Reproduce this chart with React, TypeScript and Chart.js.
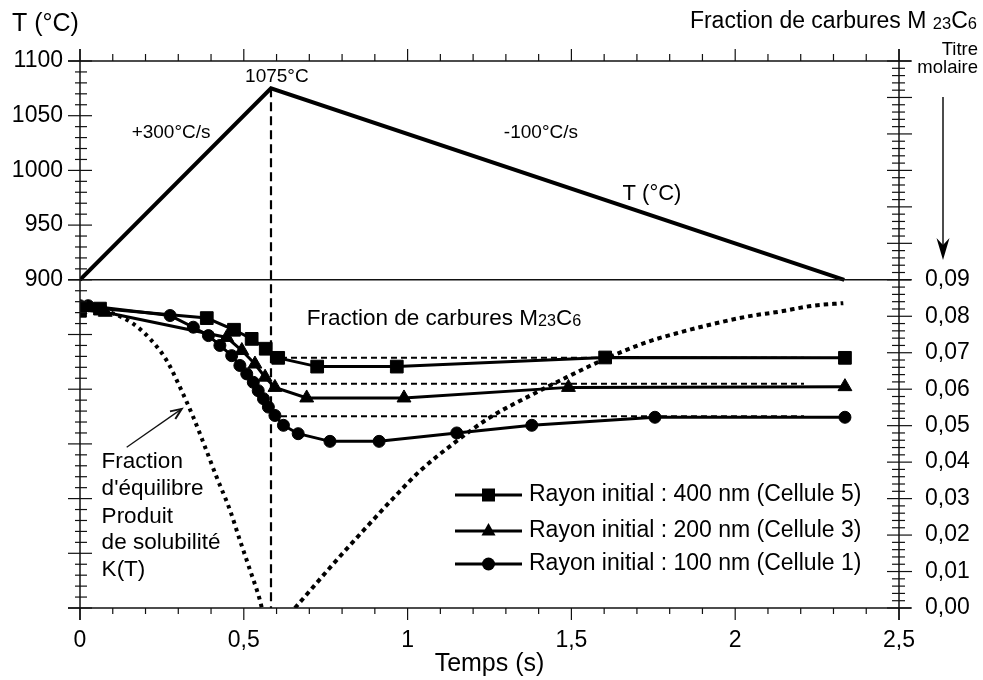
import React, { useEffect, useRef } from 'react';
import { Chart, registerables } from 'chart.js';

Chart.register(...registerables);

const FONT = '"Liberation Sans", Arial, sans-serif';

// Thermal cycle (left axis, °C)
const tempTimes = [0, 0.583, 2.333];
const tempValues = [900, 1075, 900];
const peakTime = 0.583;
const peakTemp = 1075;

// Rayon initial 400 nm (Cellule 5) – squares
const squareTimes = [0, 0.061, 0.387, 0.47, 0.524, 0.567, 0.605, 0.724, 0.967, 1.603, 2.335];
const squareValues = [0.0815, 0.0821, 0.0795, 0.0763, 0.0738, 0.0711, 0.0686, 0.0662, 0.0662, 0.0687, 0.0686];

// Rayon initial 200 nm (Cellule 3) – triangles
const triangleTimes = [0, 0.077, 0.448, 0.494, 0.534, 0.565, 0.595, 0.692, 0.989, 1.491, 2.335];
const triangleValues = [0.0818, 0.0811, 0.0742, 0.0706, 0.0669, 0.0633, 0.0605, 0.0576, 0.0576, 0.0605, 0.0607];

// Rayon initial 100 nm (Cellule 1) – circles
const circleTimes = [0, 0.025, 0.275, 0.346, 0.392, 0.427, 0.463, 0.488, 0.509, 0.529, 0.544, 0.56, 0.575, 0.595, 0.621, 0.666, 0.763, 0.913, 1.15, 1.379, 1.755, 2.335];
const circleValues = [0.0829, 0.0829, 0.0802, 0.077, 0.0747, 0.072, 0.0692, 0.0665, 0.0642, 0.0619, 0.0596, 0.0574, 0.0551, 0.0528, 0.0501, 0.0478, 0.0457, 0.0457, 0.048, 0.0501, 0.0523, 0.0523];

// Equilibrium fraction K(T) – falling branch (heating) and rising branch (cooling)
const eqFallTimes = [0, 0.092, 0.163, 0.214, 0.265, 0.31, 0.346, 0.382, 0.417, 0.458, 0.488, 0.519, 0.549, 0.555];
const eqFallValues = [0.0829, 0.0811, 0.0779, 0.0738, 0.0678, 0.0596, 0.0523, 0.0441, 0.0359, 0.0268, 0.0186, 0.0104, 0.0022, 0];
const eqRiseTimes = [0.656, 0.692, 0.743, 0.784, 0.834, 0.885, 0.972, 1.038, 1.14, 1.252, 1.384, 1.486, 1.603, 1.73, 1.832, 1.933, 2.035, 2.137, 2.238, 2.33];
const eqRiseValues = [0, 0.0037, 0.009, 0.0132, 0.0182, 0.0232, 0.0316, 0.0376, 0.0451, 0.0523, 0.0587, 0.0633, 0.0683, 0.0729, 0.0756, 0.0779, 0.0799, 0.0813, 0.0829, 0.0836];

// Final-fraction reference levels (dashed)
const refStart = 0.583;
const refEnd = 2.21;
const refLevels = [0.0686, 0.0615, 0.0526];

// Tick labels
const xTickLabels = ['0', '0,5', '1', '1,5', '2', '2,5'];
const tempTickLabels = ['900', '950', '1000', '1050', '1100'];
const fracTickLabels = ['0,00', '0,01', '0,02', '0,03', '0,04', '0,05', '0,06', '0,07', '0,08', '0,09'];

const legendLabels = [
  'Rayon initial : 400 nm (Cellule 5)',
  'Rayon initial : 200 nm (Cellule 3)',
  'Rayon initial : 100 nm (Cellule 1)',
];
const leftNoteLines = ['Fraction', "d'équilibre", 'Produit', 'de solubilité', 'K(T)'];

const pts = (xs: number[], ys: number[]) => xs.map((x, i) => ({ x, y: ys[i] }));

function richText(ctx: CanvasRenderingContext2D, parts: [string, boolean][], x: number, cy: number, size: number, align: 'left' | 'right') {
  let total = 0;
  for (const [s, sub] of parts) {
    ctx.font = `${sub ? size * 0.72 : size}px ${FONT}`;
    total += ctx.measureText(s).width;
  }
  let cx = align === 'right' ? x - total : x;
  const base = cy + size * 0.36;
  ctx.textAlign = 'left';
  ctx.textBaseline = 'alphabetic';
  for (const [s, sub] of parts) {
    ctx.font = `${sub ? size * 0.72 : size}px ${FONT}`;
    ctx.fillText(s, cx, base + (sub ? 1 : 0));
    cx += ctx.measureText(s).width;
  }
}

function drawMarker(ctx: CanvasRenderingContext2D, kind: string, x: number, y: number) {
  ctx.beginPath();
  if (kind === 'rect') {
    ctx.rect(x - 6.5, y - 6.5, 13, 13);
  } else if (kind === 'triangle') {
    ctx.moveTo(x, y - 8);
    ctx.lineTo(x - 7, y + 4.5);
    ctx.lineTo(x + 7, y + 4.5);
    ctx.closePath();
  } else {
    ctx.arc(x, y, 6.5, 0, Math.PI * 2);
  }
  ctx.fill();
}

const decorPlugin = {
  id: 'decor',
  afterDraw(chart: any) {
    const { ctx, chartArea: a, scales } = chart;
    const sx = scales.x, yT = scales.yT, yF = scales.yF;
    const line = (x1: number, y1: number, x2: number, y2: number) => {
      ctx.beginPath();
      ctx.moveTo(x1, y1);
      ctx.lineTo(x2, y2);
      ctx.stroke();
    };
    ctx.save();
    ctx.strokeStyle = '#111';
    ctx.fillStyle = '#000';
    ctx.lineWidth = 1.5;
    // axis frame
    line(a.left, a.top - 12, a.left, a.bottom + 12);
    line(a.right, a.top - 12, a.right, a.bottom + 12);
    line(a.left - 12, a.top, a.right + 12, a.top);
    line(a.left - 12, a.bottom, a.right + 12, a.bottom);
    const y900 = yT.getPixelForValue(900);
    line(a.left - 12, y900, a.right + 12, y900);
    ctx.lineWidth = 1.2;
    // x ticks (bottom & top)
    for (let i = 0; i <= 25; i++) {
      const px = sx.getPixelForValue(i / 10);
      const major = i % 5 === 0;
      line(px, a.bottom, px, a.bottom + (major ? 12 : 6));
      line(px, a.top, px, a.top - (major ? 12 : 7));
    }
    // left ticks
    for (let v = 600; v <= 1100; v += 10) {
      const py = yT.getPixelForValue(v);
      if (v % 50 === 0) line(a.left - 12, py, a.left + 12, py);
      else line(a.left - 5, py, a.left + 7, py);
    }
    // right ticks
    for (let i = 0; i <= 75; i++) {
      const py = yF.getPixelForValue(i * 0.002);
      if (i % 5 === 0) line(a.right - 12, py, a.right + 13, py);
      else line(a.right - 7, py, a.right + 6, py);
    }

    // outer titles
    ctx.fillStyle = '#000';
    ctx.font = `25px ${FONT}`;
    ctx.textAlign = 'left';
    ctx.textBaseline = 'middle';
    ctx.fillText('T (°C)', 12, 24);
    richText(ctx, [['Fraction de carbures M ', false], ['23', true], ['C', false], ['6', true]], 977, 20, 23, 'right');
    ctx.font = `18.5px ${FONT}`;
    ctx.textAlign = 'right';
    ctx.textBaseline = 'middle';
    ctx.fillText('Titre', 978, 50);
    ctx.fillText('molaire', 978, 68);
    // down arrow
    ctx.lineWidth = 1.5;
    line(943, 97, 943, 250);
    ctx.beginPath();
    ctx.moveTo(943, 260);
    ctx.lineTo(936.5, 238);
    ctx.lineTo(943, 245);
    ctx.lineTo(949.5, 238);
    ctx.closePath();
    ctx.fill();
    // x title
    ctx.font = `25px ${FONT}`;
    ctx.textAlign = 'center';
    ctx.textBaseline = 'middle';
    ctx.fillText('Temps (s)', (a.left + a.right) / 2, 664);

    // in-plot annotations (placed in data coordinates)
    const X = (t: number) => sx.getPixelForValue(t);
    const YT = (v: number) => yT.getPixelForValue(v);
    const YF = (v: number) => yF.getPixelForValue(v);
    ctx.font = `19px ${FONT}`;
    ctx.textAlign = 'center';
    ctx.fillText('1075°C', X(0.601), YT(1085.6));
    ctx.fillText('+300°C/s', X(0.278), YT(1034.4));
    ctx.fillText('-100°C/s', X(1.407), YT(1034.4));
    ctx.font = `22px ${FONT}`;
    ctx.fillText('T (°C)', X(1.746), YT(978.6));
    richText(ctx, [['Fraction de carbures M', false], ['23', true], ['C', false], ['6', true]], X(0.692), YF(0.0798), 22.5, 'left');
    ctx.font = `22.5px ${FONT}`;
    ctx.textAlign = 'left';
    ctx.textBaseline = 'middle';
    const noteY = [0.04, 0.0326, 0.025, 0.0178, 0.0104];
    leftNoteLines.forEach((s, i) => ctx.fillText(s, X(0.066), YF(noteY[i])));
    // pointer arrow
    const ax1 = X(0.1425), ay1 = YF(0.0441), ax2 = X(0.3105), ay2 = YF(0.0546);
    ctx.lineWidth = 1.3;
    line(ax1, ay1, ax2, ay2);
    const ang = Math.atan2(ay2 - ay1, ax2 - ax1);
    ctx.beginPath();
    ctx.moveTo(ax2 - 12 * Math.cos(ang - 0.4), ay2 - 12 * Math.sin(ang - 0.4));
    ctx.lineTo(ax2, ay2);
    ctx.lineTo(ax2 - 12 * Math.cos(ang + 0.4), ay2 - 12 * Math.sin(ang + 0.4));
    ctx.lineWidth = 2;
    ctx.stroke();

    // legend
    const kinds = ['rect', 'triangle', 'circle'];
    const rowY = [495, 531, 564];
    kinds.forEach((k, i) => {
      ctx.lineWidth = 3;
      ctx.strokeStyle = '#000';
      line(455, rowY[i], 522, rowY[i]);
      drawMarker(ctx, k, 488.5, rowY[i]);
      ctx.font = `23px ${FONT}`;
      ctx.textAlign = 'left';
      ctx.textBaseline = 'middle';
      ctx.fillText(legendLabels[i], 529, rowY[i]);
    });
    ctx.restore();
  },
};

export default function App() {
  const ref = useRef<HTMLCanvasElement | null>(null);
  useEffect(() => {
    document.body.style.margin = '0';
    if (!ref.current) return;
    const seriesStyle = { borderColor: '#000', backgroundColor: '#000', pointBackgroundColor: '#000', pointBorderColor: '#000', borderWidth: 3, pointBorderWidth: 1, yAxisID: 'yF', tension: 0 };
    const chart = new Chart(ref.current, {
      type: 'line',
      data: {
        datasets: [
          { ...seriesStyle, data: pts(squareTimes, squareValues), pointStyle: 'rect', pointRadius: 9 },
          { ...seriesStyle, data: pts(triangleTimes, triangleValues), pointStyle: 'triangle', pointRadius: 8 },
          { ...seriesStyle, data: pts(circleTimes, circleValues), pointStyle: 'circle', pointRadius: 6 },
          ...refLevels.map((lv) => ({
            data: [{ x: refStart, y: lv }, { x: refEnd, y: lv }],
            yAxisID: 'yF', borderColor: '#000', borderWidth: 2, borderDash: [6, 4], pointRadius: 0,
          })),
          { data: pts(eqFallTimes, eqFallValues), yAxisID: 'yF', borderColor: '#000', borderWidth: 4, borderDash: [3.5, 4.5], pointRadius: 0, cubicInterpolationMode: 'monotone' },
          { data: pts(eqRiseTimes, eqRiseValues), yAxisID: 'yF', borderColor: '#000', borderWidth: 4, borderDash: [4.5, 4], pointRadius: 0, cubicInterpolationMode: 'monotone' },
          { data: pts(tempTimes, tempValues), yAxisID: 'yT', borderColor: '#000', borderWidth: 4, pointRadius: 0, tension: 0 },
          { data: [{ x: peakTime, y: peakTemp }, { x: peakTime, y: 600 }], yAxisID: 'yT', borderColor: '#000', borderWidth: 2.2, borderDash: [9, 5], pointRadius: 0 },
        ],
      },
      options: {
        responsive: false,
        animation: false,
        events: [],
        layout: { padding: { top: 61, left: 0, right: 0, bottom: 0 } },
        plugins: { legend: { display: false }, tooltip: { enabled: false } },
        scales: {
          x: {
            type: 'linear', position: 'bottom', min: 0, max: 2.5,
            afterFit: (s: any) => { s.height = 72; },
            grid: { display: false, drawTicks: false }, border: { display: false },
            ticks: {
              stepSize: 0.5, padding: 19, color: '#000', maxRotation: 0, autoSkip: false,
              font: { family: FONT, size: 23 },
              callback: (v: any) => xTickLabels[Math.round(Number(v) / 0.5)] ?? '',
            },
          },
          yT: {
            type: 'linear', position: 'left', min: 600, max: 1100,
            afterFit: (s: any) => { s.width = 80; },
            grid: { display: false, drawTicks: false }, border: { display: false },
            ticks: {
              stepSize: 50, padding: 17, color: '#000', autoSkip: false,
              font: { family: FONT, size: 23 },
              callback: (v: any) => (Number(v) >= 899 ? tempTickLabels[Math.round((Number(v) - 900) / 50)] : ''),
            },
          },
          yF: {
            type: 'linear', position: 'right', min: 0, max: 0.15,
            afterFit: (s: any) => { s.width = 84; },
            grid: { display: false, drawTicks: false }, border: { display: false },
            ticks: {
              stepSize: 0.01, padding: 26, color: '#000', autoSkip: false,
              font: { family: FONT, size: 23 },
              callback: (v: any) => { const i = Math.round(Number(v) / 0.01); return i <= 9 ? fracTickLabels[i] : ''; },
            },
          },
        },
      },
      plugins: [decorPlugin],
    } as any);
    return () => chart.destroy();
  }, []);
  return (
    <div style={{ width: 983, height: 680 }}>
      <canvas ref={ref} width={983} height={680} />
    </div>
  );
}
